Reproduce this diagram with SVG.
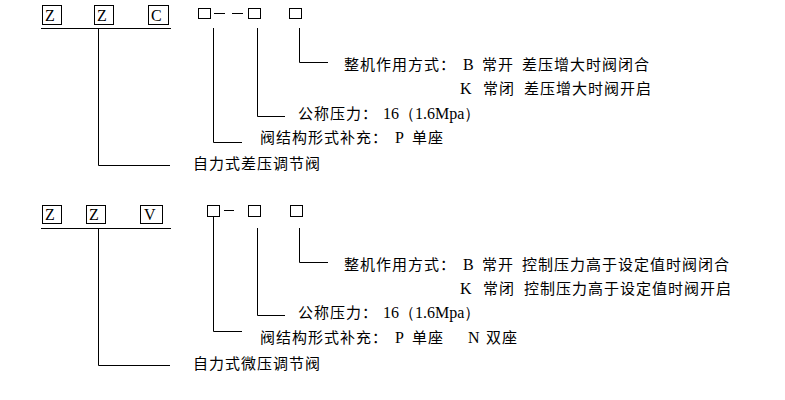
<svg xmlns="http://www.w3.org/2000/svg" width="785" height="400" viewBox="0 0 785 400">
<style>
.b{fill:none;stroke:#000;stroke-width:1}
.l{stroke:#000;stroke-width:1;fill:none}
.t{font-family:"Noto Sans CJK SC",sans-serif;font-size:15px;letter-spacing:1px;fill:#000}
.s{font-family:"Liberation Serif",serif;font-size:16px;fill:#000}
</style>
<rect width="785" height="400" fill="#fff"/>
<g id="code1">
<rect class="b" x="42.5" y="5.5" width="19" height="19"/><text class="s" x="45" y="21">Z</text>
<rect class="b" x="94.5" y="5.5" width="19" height="19"/><text class="s" x="97" y="21">Z</text>
<rect class="b" x="148.5" y="5.5" width="20" height="19"/><text class="s" x="151" y="21">C</text>
<rect class="b" x="198.5" y="8.5" width="12" height="10"/>
<rect class="b" x="248.5" y="8.5" width="12" height="10"/>
<rect class="b" x="289.5" y="8.5" width="12" height="10"/>
</g>
<g id="code2">
<rect class="b" x="42.5" y="205.5" width="19" height="18"/><text class="s" x="45" y="220">Z</text>
<rect class="b" x="86.5" y="205.5" width="19" height="18"/><text class="s" x="89" y="220">Z</text>
<rect class="b" x="140.5" y="205.5" width="22" height="18"/><text class="s" x="144" y="220">V</text>
<rect class="b" x="207.5" y="205.5" width="12" height="11"/>
<rect class="b" x="248.5" y="205.5" width="12" height="11"/>
<rect class="b" x="290.5" y="205.5" width="12" height="11"/>
</g>
<g id="connectors">
<path class="l" d="M214 13.5H225M232 13.5H243"/>
<path class="l" d="M41 28.5H171M98.5 28.5V165.5H170M213.5 28V142.5H242M257.5 28V116.5H285M299.5 28V62.5H328"/>
<path class="l" d="M224 210.5H234"/>
<path class="l" d="M41 228.5H171M98.5 228.5V365.5H170M213.5 217V331.5H242M257.5 228V315.5H285M299.5 228V262.5H328"/>
</g>
<g id="labels1">
<text class="t" x="344" y="70">整机作用方式：</text><text class="s" x="463" y="70">B</text><text class="t" x="482" y="70">常开</text><text class="t" x="522" y="70">差压增大时阀闭合</text>
<text class="s" x="460" y="94">K</text><text class="t" x="483" y="94">常闭</text><text class="t" x="524" y="94">差压增大时阀开启</text>
<text class="t" x="298" y="119">公称压力：</text><text class="s" x="383" y="119">16（1.6Mpa）</text>
<text class="t" x="260" y="143">阀结构形式补充：</text><text class="s" x="395" y="143">P</text><text class="t" x="412" y="143">单座</text>
<text class="t" x="193" y="169">自力式差压调节阀</text>
</g>
<g id="labels2">
<text class="t" x="344" y="270">整机作用方式：</text><text class="s" x="463" y="270">B</text><text class="t" x="482" y="270">常开</text><text class="t" x="522" y="270">控制压力高于设定值时阀闭合</text>
<text class="s" x="460" y="294">K</text><text class="t" x="483" y="294">常闭</text><text class="t" x="524" y="294">控制压力高于设定值时阀开启</text>
<text class="t" x="298" y="318">公称压力：</text><text class="s" x="383" y="318">16（1.6Mpa）</text>
<text class="t" x="260" y="343">阀结构形式补充：</text><text class="s" x="395" y="343">P</text><text class="t" x="412" y="343">单座</text><text class="s" x="468" y="343">N</text><text class="t" x="486" y="343">双座</text>
<text class="t" x="193" y="369">自力式微压调节阀</text>
</g>
</svg>
